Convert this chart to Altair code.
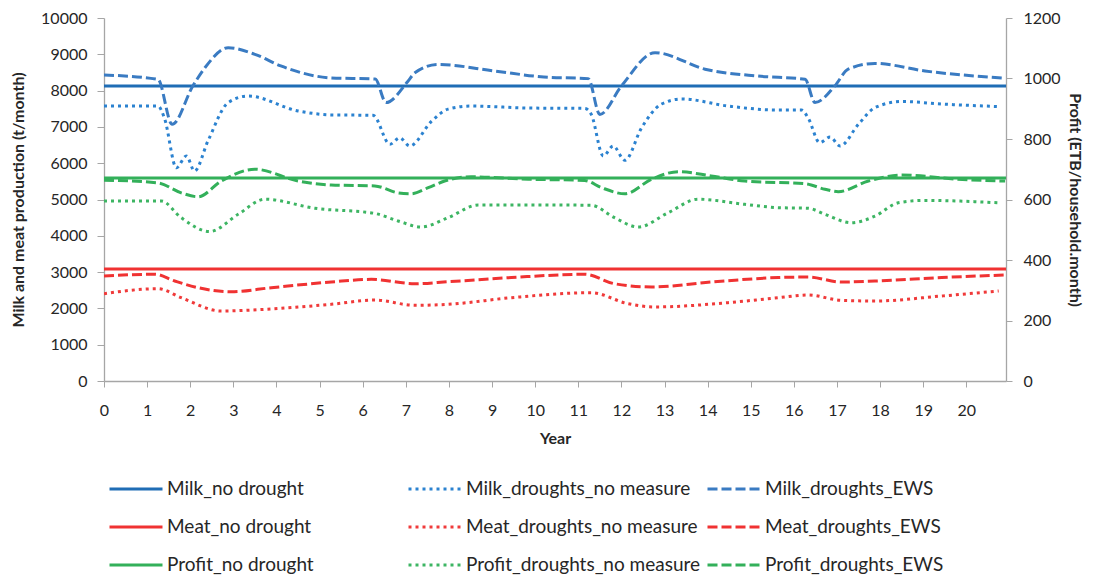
import altair as alt
import pandas as pd

# ---------------- data ----------------
# legend is filled column by column (3 rows per column)
series_order = [
    "Milk_no drought", "Meat_no drought", "Profit_no drought",
    "Milk_droughts_no measure", "Meat_droughts_no measure", "Profit_droughts_no measure",
    "Milk_droughts_EWS", "Meat_droughts_EWS", "Profit_droughts_EWS",
]

nodrought_year = [0, 20.92]
milk_nodrought = [8127, 8127]
meat_nodrought = [3085, 3085]
profit_nodrought = [671, 671]

milk_ews_year = [0, 1.25, 1.58, 2.06, 2.34, 2.88, 3.5, 4.1, 5.27, 6.29, 6.54, 7.05, 7.21,
                 7.75, 9.06, 10.2, 11.23, 11.5, 12.0, 12.78, 13.94, 15.17, 16.26, 16.49,
                 16.95, 17.26, 17.88, 19.04, 20.9]
milk_ews = [8430, 8310, 7070, 8127, 8630, 9180, 9000, 8680, 8350, 8320, 7670, 8260, 8490,
            8720, 8540, 8375, 8330, 7345, 8127, 9045, 8590, 8400, 8310, 7670,
            8127, 8590, 8750, 8540, 8340]

milk_nm_year = [0, 1.25, 1.4, 1.68, 1.91, 2.1, 2.41, 2.88, 3.34, 4.5, 5.27, 6.24, 6.63, 6.86,
                7.09, 7.6, 7.98, 8.51, 9.84, 11.15, 11.3, 11.58, 11.81, 12.08, 12.47, 12.93,
                13.4, 14.47, 15.62, 16.18, 16.33, 16.6, 16.84, 17.07, 17.5, 17.88, 18.5,
                19.43, 20.75]
milk_nm = [7575, 7575, 7250, 5875, 6200, 5785, 6610, 7670, 7850, 7440, 7330, 7320, 6520, 6700,
           6475, 7160, 7490, 7575, 7520, 7510, 7350, 6200, 6475, 6080, 6980, 7630,
           7770, 7575, 7465, 7465, 7250, 6565, 6720, 6475, 7075, 7530, 7700,
           7630, 7560]

meat_ews_year = [0, 1.18, 1.64, 2.18, 2.95, 3.88, 5.27, 6.2, 7.21, 7.98, 9.45, 11.15, 11.84,
                 12.7, 14.08, 15.64, 16.33, 17.1, 17.88, 19.43, 20.9]
meat_ews = [2893, 2940, 2755, 2570, 2460, 2570, 2727, 2800, 2680, 2735, 2850, 2940, 2680,
            2590, 2727, 2850, 2865, 2727, 2755, 2850, 2920]

meat_nm_year = [0, 1.25, 1.79, 2.72, 3.73, 5.27, 6.28, 7.21, 7.98, 9.45, 11.3, 12.15, 12.77,
                14.47, 15.64, 16.33, 17.1, 17.88, 19.43, 20.75]
meat_nm = [2405, 2543, 2295, 1928, 1975, 2113, 2230, 2085, 2113, 2295, 2433, 2130, 2040,
           2157, 2295, 2370, 2223, 2204, 2342, 2480]

profit_ews_year = [0, 1.25, 1.79, 2.18, 2.72, 3.5, 4.5, 5.27, 6.28, 6.82, 7.12, 7.52, 7.9, 8.51,
                   9.84, 11.15, 11.54, 12.08, 12.7, 13.32, 14.08, 14.86, 16.26, 16.72, 17.03,
                   17.73, 18.5, 19.8, 20.9]
profit_ews = [664, 655, 622, 609, 661, 700, 661, 648, 645, 622, 619, 639, 661, 675,
              667, 663, 639, 619, 667, 692, 678, 661, 652, 634, 626,
              661, 681, 667, 661]

profit_nm_year = [0, 1.33, 1.79, 2.45, 3.11, 3.73, 4.89, 6.28, 6.82, 7.36, 7.98, 8.68, 9.84,
                  11.3, 11.84, 12.39, 13.08, 13.78, 14.86, 15.64, 16.33, 16.72, 17.33, 17.88,
                  18.42, 19.04, 19.8, 20.75]
profit_nm = [595, 595, 540, 494, 551, 601, 571, 554, 529, 509, 540, 582, 582,
             581, 540, 509, 556, 601, 584, 573, 571, 551, 523, 545,
             589, 597, 595, 589]

x_ticks = list(range(0, 21))
left_ticks = list(range(0, 10001, 1000))
right_ticks = list(range(0, 1201, 200))

color_map = {
    "Milk_no drought": "#1F6DB5", "Milk_droughts_no measure": "#2B82D0", "Milk_droughts_EWS": "#3A7BC2",
    "Meat_no drought": "#F03232", "Meat_droughts_no measure": "#F03A3A", "Meat_droughts_EWS": "#F03232",
    "Profit_no drought": "#33B05A", "Profit_droughts_no measure": "#3DB563", "Profit_droughts_EWS": "#33B05A",
}
solid, dotted, dashed = [1, 0], [3, 4], [10, 4]
dash_map = {
    "Milk_no drought": solid, "Meat_no drought": solid, "Profit_no drought": solid,
    "Milk_droughts_no measure": dotted, "Meat_droughts_no measure": dotted,
    "Profit_droughts_no measure": dotted,
    "Milk_droughts_EWS": dashed, "Meat_droughts_EWS": dashed, "Profit_droughts_EWS": dashed,
}

# ---------------- build tables ----------------
def table(pairs):
    frames = []
    for name, xs, ys in pairs:
        frames.append(pd.DataFrame({"series": name, "year": xs, "value": ys}))
    return pd.concat(frames, ignore_index=True)

left_df = table([
    ("Milk_no drought", nodrought_year, milk_nodrought),
    ("Milk_droughts_no measure", milk_nm_year, milk_nm),
    ("Milk_droughts_EWS", milk_ews_year, milk_ews),
    ("Meat_no drought", nodrought_year, meat_nodrought),
    ("Meat_droughts_no measure", meat_nm_year, meat_nm),
    ("Meat_droughts_EWS", meat_ews_year, meat_ews),
])
right_df = table([
    ("Profit_no drought", nodrought_year, profit_nodrought),
    ("Profit_droughts_no measure", profit_nm_year, profit_nm),
    ("Profit_droughts_EWS", profit_ews_year, profit_ews),
])

FONT = "Lato"
TXT = "#262626"

color_scale = alt.Scale(domain=series_order, range=[color_map[s] for s in series_order])
dash_scale = alt.Scale(domain=series_order, range=[dash_map[s] for s in series_order])

legend = alt.Legend(
    title=None, orient="none", legendX=4, legendY=443, columns=3,
    symbolType="stroke", symbolSize=2809, symbolStrokeWidth=3,
    labelFont=FONT, labelFontSize=19, labelColor=TXT, labelOffset=3,
    gridAlign="all", columnPadding=0, rowPadding=0, labelLimit=400,
)

axis_style = dict(labelFont=FONT, labelFontSize=16, labelColor=TXT,
                  titleFont=FONT, titleFontSize=16, titleFontWeight="bold", titleColor=TXT,
                  domainColor="#A6A6A6", tickColor="#A6A6A6", domainWidth=1.3, grid=False)

x_enc = alt.X("year:Q", scale=alt.Scale(domain=[0, 20.92], nice=False, zero=False),
              axis=alt.Axis(values=x_ticks, title="Year", labelFlush=False, format="d",
                            tickSize=6, labelPadding=15, titlePadding=12, **axis_style))

base_line = dict(interpolate="monotone", strokeWidth=3, clip=True)

left = alt.Chart(left_df).mark_line(**base_line).encode(
    x=x_enc,
    y=alt.Y("value:Q", scale=alt.Scale(domain=[0, 10000], nice=False),
            axis=alt.Axis(values=left_ticks, title="Milk and meat production (t/month)",
                          orient="left", format="d", tickSize=7, labelPadding=10,
                          titlePadding=14, **axis_style)),
    color=alt.Color("series:N", scale=color_scale, legend=legend, sort=series_order),
    strokeDash=alt.StrokeDash("series:N", scale=dash_scale, legend=legend, sort=series_order),
    detail="series:N",
)

right = alt.Chart(right_df).mark_line(**base_line).encode(
    x=x_enc,
    y=alt.Y("value:Q", scale=alt.Scale(domain=[0, 1200], nice=False),
            axis=alt.Axis(values=right_ticks, title="Profit (ETB/household.month)",
                          orient="right", format="d", tickSize=6, labelPadding=11,
                          titlePadding=6, **axis_style)),
    color=alt.Color("series:N", scale=color_scale, legend=legend, sort=series_order),
    strokeDash=alt.StrokeDash("series:N", scale=dash_scale, legend=legend, sort=series_order),
    detail="series:N",
)

chart = alt.layer(left, right).resolve_scale(y="independent").properties(
    width=902, height=363, background="white",
    padding={"left": 2, "top": 2, "right": 6, "bottom": 2},
).configure_view(strokeWidth=0)

chart.save("out.html", embed_options={"renderer": "svg", "actions": False})
